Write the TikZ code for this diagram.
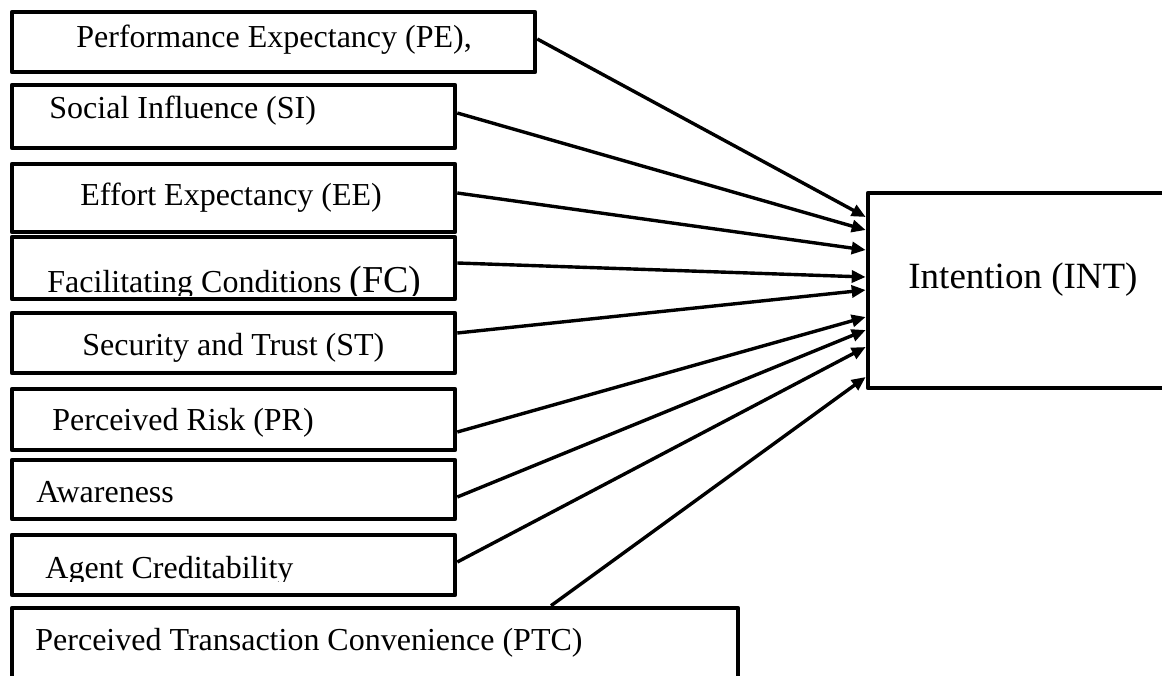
\documentclass[tikz,border=0pt]{standalone}
\usepackage{fontspec}
\setmainfont{Liberation Serif}
\usetikzlibrary{arrows.meta,fit}
\begin{document}
\begin{tikzpicture}[x=0.5pt,y=-0.5pt,
  box/.style={draw=black, line width=2.3pt, inner sep=0pt, line join=round},
  lbl/.style={anchor=base west, inner sep=0pt, font=\fontsize{16}{19}\selectfont},
  arr/.style={draw=black, line width=1.7pt, -{Triangle[length=7pt,width=6pt]}}]
\useasboundingbox (0,0) rectangle (1162,675);
\clip (0,0) rectangle (1162,675);
% boxes
\node[box, fit={(12,12)(535,72)}] (pe) {};
\node[box, fit={(12,85)(455,148)}] (si) {};
\node[box, fit={(12,164)(455,232)}] (ee) {};
\node[box, fit={(12,237)(455,299)}] (fc) {};
\node[box, fit={(12,313)(455,373)}] (st) {};
\node[box, fit={(12,389)(455,450)}] (pr) {};
\node[box, fit={(12,460)(455,519)}] (aw) {};
\node[box, fit={(12,535)(455,595)}] (ag) {};
\node[box, fit={(12,608)(738,720)}] (ptc) {};
\node[box, fit={(868,193)(1200,388)}] (int) {};
% labels
\node[lbl] (tpe) at (76,47) {Performance Expectancy (PE),};
\node[lbl] (tsi) at (49,118) {Social Influence (SI)};
\node[lbl] (tee) at (80,205) {Effort Expectancy (EE)};
\begin{scope}
\clip (14,239) rectangle (453,295);
\node[lbl] (tfc) at (47,292) {Facilitating Conditions {\fontsize{19}{22}\selectfont(FC)}};
\end{scope}
\node[lbl] (tst) at (82,355) {Security and Trust (ST)};
\node[lbl] (tpr) at (52,430) {Perceived Risk (PR)};
\node[lbl] (taw) at (36,502) {Awareness};
\begin{scope}
\clip (14,537) rectangle (453,581);
\node[lbl] (tag) at (45,578) {Agent Creditability};
\end{scope}
\node[lbl] (tptc) at (35,650) {Perceived Transaction Convenience (PTC)};
\node[anchor=base west, inner sep=0pt, font=\fontsize{18.5}{22}\selectfont] (tint) at (908,288) {Intention (INT)};
% connectors
\draw[arr] ([shift={(0,-3)}]pe.east) -- ([shift={(0,-73.5)}]int.west);
\draw[arr] ([shift={(0,-3.5)}]si.east) -- ([shift={(0,-60.5)}]int.west);
\draw[arr] ([shift={(0,-5)}]ee.east) -- ([shift={(0,-40.5)}]int.west);
\draw[arr] ([shift={(0,-5)}]fc.east) -- ([shift={(0,-13.5)}]int.west);
\draw[arr] ([shift={(0,-10)}]st.east) -- ([shift={(0,-0.5)}]int.west);
\draw[arr] ([shift={(0,12.5)}]pr.east) -- ([shift={(0,26.5)}]int.west);
\draw[arr] ([shift={(0,7.5)}]aw.east) -- ([shift={(0,39.5)}]int.west);
\draw[arr] ([shift={(0,-3)}]ag.east) -- ([shift={(0,56.5)}]int.west);
\draw[arr] ([shift={(176,0)}]ptc.north) -- ([shift={(0,86.5)}]int.west);
\end{tikzpicture}
\end{document}
